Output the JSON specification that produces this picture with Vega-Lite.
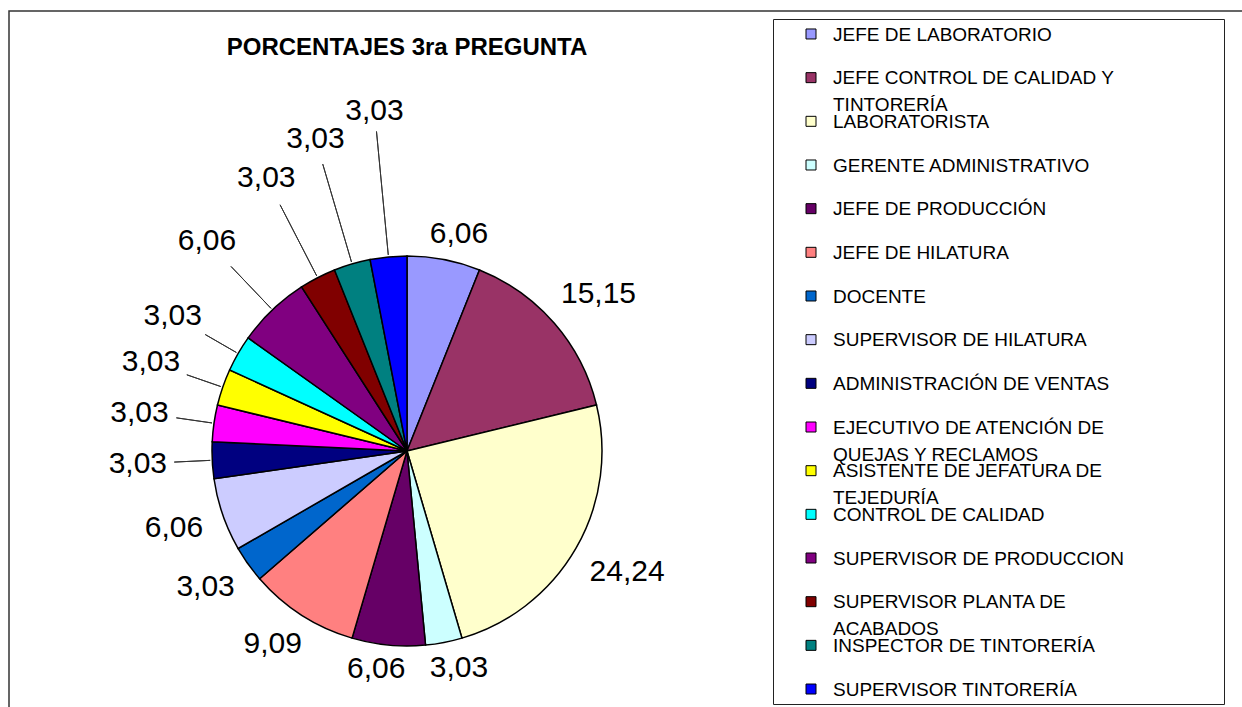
{
  "$schema": "https://vega.github.io/schema/vega-lite/v6.json",
  "padding": {"left": 8, "top": 10, "right": 0, "bottom": 0},
  "background": "white",
  "spacing": 34,
  "bounds": "flush",
  "config": {
    "locale": {"number": {"decimal": ",", "thousands": ".", "grouping": [3], "currency": ["", " €"]}},
    "view": {"stroke": null},
    "font": "Liberation Sans"
  },
  "datasets": {
    "cargos": [
      {"orden": 1, "cargo": "JEFE DE LABORATORIO", "pct": 6.06},
      {"orden": 2, "cargo": "JEFE CONTROL DE CALIDAD Y TINTORERÍA", "pct": 15.15},
      {"orden": 3, "cargo": "LABORATORISTA", "pct": 24.24},
      {"orden": 4, "cargo": "GERENTE ADMINISTRATIVO", "pct": 3.03},
      {"orden": 5, "cargo": "JEFE DE PRODUCCIÓN", "pct": 6.06},
      {"orden": 6, "cargo": "JEFE DE HILATURA", "pct": 9.09},
      {"orden": 7, "cargo": "DOCENTE", "pct": 3.03},
      {"orden": 8, "cargo": "SUPERVISOR DE HILATURA", "pct": 6.06},
      {"orden": 9, "cargo": "ADMINISTRACIÓN DE VENTAS", "pct": 3.03},
      {"orden": 10, "cargo": "EJECUTIVO DE ATENCIÓN DE QUEJAS Y RECLAMOS", "pct": 3.03},
      {"orden": 11, "cargo": "ASISTENTE DE JEFATURA DE TEJEDURÍA", "pct": 3.03},
      {"orden": 12, "cargo": "CONTROL DE CALIDAD", "pct": 3.03},
      {"orden": 13, "cargo": "SUPERVISOR DE PRODUCCION", "pct": 6.06},
      {"orden": 14, "cargo": "SUPERVISOR PLANTA DE ACABADOS", "pct": 3.03},
      {"orden": 15, "cargo": "INSPECTOR DE TINTORERÍA", "pct": 3.03},
      {"orden": 16, "cargo": "SUPERVISOR TINTORERÍA", "pct": 3.03}
    ]
  },
  "hconcat": [
    {
      "width": 730,
      "height": 690,
      "data": {"name": "cargos"},
      "title": {
        "text": "PORCENTAJES 3ra PREGUNTA",
        "frame": "group",
        "anchor": "middle",
        "offset": -69,
        "dx": 33,
        "baseline": "alphabetic",
        "font": "Liberation Sans",
        "fontSize": 24,
        "fontWeight": "bold",
        "color": "#000"
      },
      "layer": [
        {
          "data": {"values": [{"marco": "area del grafico"}]},
          "mark": {"type": "rect", "filled": false, "stroke": "#333", "strokeWidth": 1.5, "xOffset": 512, "yOffset": -8},
          "encoding": {}
        },
        {
          "encoding": {
            "theta": {"field": "pct", "type": "quantitative", "stack": true},
            "order": {"field": "orden", "type": "quantitative"}
          },
          "layer": [
            {
              "mark": {"type": "arc", "radius": 195, "stroke": "#000", "strokeWidth": 1.5, "xOffset": 33, "yOffset": 87},
              "encoding": {
                "color": {
                  "field": "cargo",
                  "type": "nominal",
                  "scale": {
                    "domain": ["JEFE DE LABORATORIO", "JEFE CONTROL DE CALIDAD Y TINTORERÍA", "LABORATORISTA", "GERENTE ADMINISTRATIVO", "JEFE DE PRODUCCIÓN", "JEFE DE HILATURA", "DOCENTE", "SUPERVISOR DE HILATURA", "ADMINISTRACIÓN DE VENTAS", "EJECUTIVO DE ATENCIÓN DE QUEJAS Y RECLAMOS", "ASISTENTE DE JEFATURA DE TEJEDURÍA", "CONTROL DE CALIDAD", "SUPERVISOR DE PRODUCCION", "SUPERVISOR PLANTA DE ACABADOS", "INSPECTOR DE TINTORERÍA", "SUPERVISOR TINTORERÍA"],
                    "range": ["#9999FF", "#993366", "#FFFFCC", "#CCFFFF", "#660066", "#FF8080", "#0066CC", "#CCCCFF", "#000080", "#FF00FF", "#FFFF00", "#00FFFF", "#800080", "#800000", "#008080", "#0000FF"]
                  },
                  "legend": null
                }
              }
            },
            {
              "mark": {
                "type": "arc",
                "filled": false,
                "padAngle": 3,
                "radius": {"expr": "datum.orden >= 9 ? 233 + max(0, datum.orden - 12) * 22 : 197"},
                "radius2": 197,
                "stroke": "#333",
                "strokeWidth": 1,
                "xOffset": 33,
                "yOffset": 87
              },
              "encoding": {
                "opacity": {"condition": {"test": "datum.orden >= 9", "value": 1}, "value": 0}
              }
            },
            {
              "mark": {
                "type": "text",
                "font": "Liberation Sans",
                "fontSize": 30,
                "color": "#000",
                "xOffset": 33,
                "yOffset": 87,
                "dx": {"expr": "datum.orden < 9 ? (sin(PI * (datum.pct_start + datum.pct_end) / 99.99) >= 0 ? 10 : -10) : 0"},
                "radius": {"expr": "205 + (datum.pct >= 10 ? 37 : 29) * abs(sin(PI * (datum.pct_start + datum.pct_end) / 99.99)) + 11 * abs(cos(PI * (datum.pct_start + datum.pct_end) / 99.99)) + (datum.orden >= 9 ? 35 + max(0, datum.orden - 12) * 22 : 0)"}
              },
              "encoding": {
                "text": {"field": "pct", "type": "quantitative", "format": ".2f"}
              }
            }
          ]
        }
      ]
    },
    {
      "width": 451,
      "height": 685,
      "view": {"stroke": "#222", "strokeWidth": 1},
      "data": {"name": "cargos"},
      "transform": [
        {"calculate": "length(datum.cargo) > 26 ? replace(datum.cargo, regexp(' (?=(TINTORERÍA|QUEJAS Y RECLAMOS|TEJEDURÍA|ACABADOS)$)'), '\\n') : datum.cargo", "as": "etiqueta"}
      ],
      "encoding": {
        "y": {"field": "cargo", "type": "nominal", "sort": {"field": "orden", "op": "min"}, "scale": {"type": "point", "padding": 0.343}, "axis": null}
      },
      "layer": [
        {
          "mark": {"type": "point", "shape": "square", "filled": true, "size": 100, "stroke": "#000", "strokeWidth": 1, "opacity": 1, "xOffset": -187.5},
          "encoding": {
            "color": {
              "field": "cargo",
              "type": "nominal",
              "scale": {
                "domain": ["JEFE DE LABORATORIO", "JEFE CONTROL DE CALIDAD Y TINTORERÍA", "LABORATORISTA", "GERENTE ADMINISTRATIVO", "JEFE DE PRODUCCIÓN", "JEFE DE HILATURA", "DOCENTE", "SUPERVISOR DE HILATURA", "ADMINISTRACIÓN DE VENTAS", "EJECUTIVO DE ATENCIÓN DE QUEJAS Y RECLAMOS", "ASISTENTE DE JEFATURA DE TEJEDURÍA", "CONTROL DE CALIDAD", "SUPERVISOR DE PRODUCCION", "SUPERVISOR PLANTA DE ACABADOS", "INSPECTOR DE TINTORERÍA", "SUPERVISOR TINTORERÍA"],
                "range": ["#9999FF", "#993366", "#FFFFCC", "#CCFFFF", "#660066", "#FF8080", "#0066CC", "#CCCCFF", "#000080", "#FF00FF", "#FFFF00", "#00FFFF", "#800080", "#800000", "#008080", "#0000FF"]
              },
              "legend": null
            }
          }
        },
        {
          "mark": {"type": "text", "align": "left", "baseline": "alphabetic", "dx": -165.5, "dy": 6.8, "font": "Liberation Sans", "fontSize": 19, "lineBreak": "\n", "lineHeight": 27, "color": "#000"},
          "encoding": {
            "text": {"field": "etiqueta", "type": "nominal"}
          }
        }
      ]
    }
  ]
}
